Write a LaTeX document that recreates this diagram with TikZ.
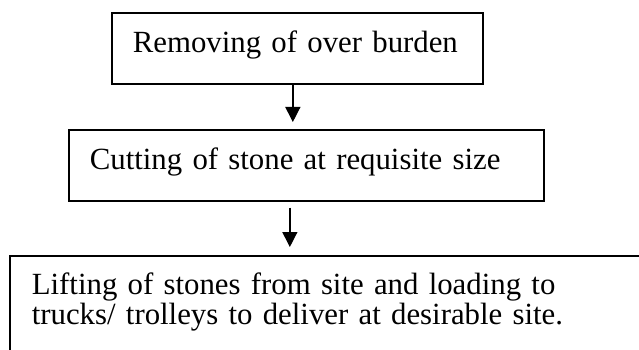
\documentclass[tikz,border=0pt]{standalone}
\usepackage{fontspec}
\setmainfont{Liberation Serif}
\usetikzlibrary{arrows.meta,calc}
\begin{document}
\begin{tikzpicture}[x=1pt,y=-1pt,
  boxstyle/.style={draw=black,line width=1.7pt,anchor=north west,align=left,
    inner xsep=21pt,inner ysep=0pt,text height=20pt,text depth=12pt,
    font=\fontsize{30.8}{30}\selectfont},
  arr/.style={line width=1.3pt,-{Triangle[length=15pt,width=15pt]}}]
\path[use as bounding box,clip] (0,0) rectangle (639,350);
\fill[white] (0,0) rectangle (639,350);
\node[boxstyle,text width=329pt,minimum height=71pt] (b1) at (111,12) {\mbox{Removing of over burden}};
\node[boxstyle,text width=433pt,minimum height=71pt] (b2) at (68,129) {\mbox{Cutting of stone at requisite size}};
\node[boxstyle,inner xsep=22pt,inner ysep=17pt,text height=21.6pt,text depth=40pt,text width=660pt] (b3) at (9,255)
  {\mbox{Lifting of stones from site and loading to}\\[0pt]\mbox{trucks/ trolleys to deliver at desirable site.}};
\draw[arr,shorten >=7pt] ([xshift=-4.5pt]b1.south) -- ([xshift=-4.5pt]b1.south |- b2.north);
\draw[arr,shorten <=6pt,shorten >=8pt] ([xshift=-16.5pt]b2.south) -- ([xshift=-16.5pt]b2.south |- b3.north);
\end{tikzpicture}
\end{document}
